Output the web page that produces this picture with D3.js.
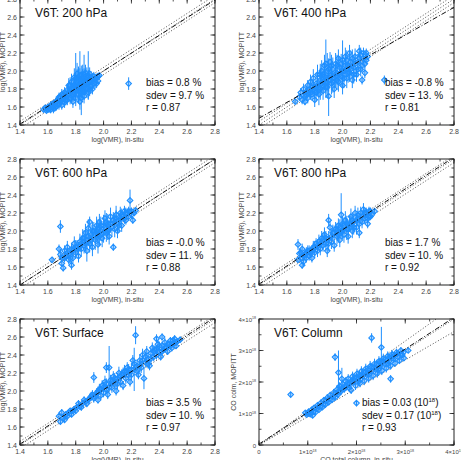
<!DOCTYPE html>
<meta charset="utf-8">
<script src="https://cdnjs.cloudflare.com/ajax/libs/d3/7.8.5/d3.min.js"></script>
<style>
body { margin: 0; background: #fff; }
text { font-family: "Liberation Sans", Arial, sans-serif; }
</style>
<body>
<script>

// panel layout
var colX = [20, 259], rowY = [-1, 159, 319];
var pw = 195, ph = 126;
var blue = "#1e8fff";

var titles = ["V6T: 200 hPa", "V6T: 400 hPa", "V6T: 600 hPa", "V6T: 800 hPa", "V6T: Surface", "V6T: Column"];
var stats = [
  ["bias = 0.8 %", "sdev = 9.7 %", "r = 0.87"],
  ["bias = -0.8 %", "sdev = 13. %", "r = 0.81"],
  ["bias = -0.0 %", "sdev = 11. %", "r = 0.88"],
  ["bias = 1.7 %", "sdev = 10. %", "r = 0.92"],
  ["bias = 3.5 %", "sdev = 10. %", "r = 0.97"],
  ["bias = 0.03 (10|18|)", "sdev = 0.17 (10|18|)", "r = 0.93"]
];
// fit line: y value at left and right end of the x domain
var fits = [[1.41, 2.79], [1.475, 2.707], [1.40, 2.80], [1.41, 2.82], [1.41, 2.82], [0.03, 4.05]];
var logTicks = [1.4, 1.6, 1.8, 2.0, 2.2, 2.4, 2.6, 2.8];
var colTicks = [0, 1, 2, 3, 4];

// [in-situ, MOPITT, error]
var p200 = [[1.57,1.57,0.02],[1.58,1.59,0.03],[1.59,1.56,0.02],[1.60,1.60,0.03],[1.61,1.58,0.04],[1.62,1.62,0.03],[1.62,1.57,0.04],
 [1.63,1.60,0.04],[1.64,1.64,0.03],[1.64,1.58,0.05],[1.65,1.62,0.04],[1.66,1.66,0.05],[1.66,1.60,0.04],[1.67,1.68,0.05],
 [1.68,1.63,0.06],[1.68,1.71,0.05],[1.69,1.66,0.05],[1.70,1.74,0.06],[1.70,1.62,0.05],[1.71,1.69,0.07],[1.72,1.76,0.06],
 [1.72,1.65,0.06],[1.73,1.72,0.08],[1.74,1.79,0.07],[1.74,1.68,0.06],[1.75,1.75,0.09],[1.75,1.84,0.08],[1.76,1.70,0.07],
 [1.77,1.80,0.10],[1.77,1.88,0.09],[1.78,1.74,0.08],[1.78,1.66,0.07],[1.79,1.84,0.12],[1.79,1.93,0.10],[1.80,1.78,0.10],
 [1.80,1.92,0.28],[1.80,1.70,0.09],[1.81,1.88,0.14],[1.81,1.97,0.12],[1.82,1.82,0.11],[1.82,1.74,0.10],[1.83,1.90,0.13],
 [1.83,1.95,0.27],[1.83,1.66,0.09],[1.84,1.86,0.12],[1.84,1.70,0.19],[1.84,1.96,0.10],[1.85,1.78,0.11],[1.85,1.92,0.15],
 [1.86,1.83,0.10],[1.86,1.96,0.22],[1.86,1.72,0.08],[1.87,1.90,0.12],[1.87,1.98,0.09],[1.88,1.80,0.10],[1.88,1.86,0.11],
 [1.89,1.93,0.08],[1.89,1.95,0.27],[1.89,1.76,0.07],[1.90,1.88,0.09],[1.90,1.97,0.07],[1.91,1.83,0.08],[1.92,1.91,0.06],
 [1.92,1.80,0.06],[1.93,1.94,0.05],[1.94,1.87,0.06],[1.95,1.92,0.05],[1.96,1.89,0.04],[1.97,1.95,0.03],[2.18,1.86,0.07],
 [1.60,1.57,0.03],[1.63,1.63,0.04],[1.65,1.59,0.04],[1.67,1.64,0.05],[1.69,1.70,0.06],[1.71,1.73,0.06],[1.73,1.68,0.06],
 [1.74,1.74,0.08],[1.76,1.78,0.08],[1.76,1.84,0.09],[1.78,1.82,0.10],[1.79,1.76,0.09],[1.80,1.86,0.12],[1.81,1.80,0.10],
 [1.82,1.92,0.13],[1.83,1.78,0.11],[1.84,1.82,0.12],[1.85,1.88,0.14],[1.86,1.90,0.13],[1.87,1.84,0.11],[1.88,1.94,0.10],
 [1.89,1.86,0.10],[1.90,1.80,0.08],[1.91,1.92,0.08],[1.93,1.86,0.06],[1.94,1.92,0.05],[1.95,1.86,0.05],[1.96,1.94,0.04],
 [1.77,1.72,0.08],[1.80,1.82,0.10],[1.83,1.84,0.12],[1.86,1.78,0.10],[1.70,1.68,0.06],[1.72,1.70,0.06],[1.91,1.88,0.08]];

var p400 = [[1.66,1.66,0.02],[1.69,1.71,0.04],[1.70,1.76,0.05],[1.71,1.68,0.05],[1.72,1.80,0.06],[1.72,1.73,0.05],[1.73,1.66,0.04],
 [1.74,1.77,0.07],[1.75,1.84,0.06],[1.75,1.70,0.06],[1.76,1.79,0.08],[1.77,1.88,0.08],[1.78,1.74,0.07],[1.78,1.82,0.09],
 [1.79,1.92,0.10],[1.80,1.78,0.09],[1.80,1.68,0.08],[1.81,1.86,0.12],[1.82,1.96,0.11],[1.83,1.82,0.10],[1.83,1.74,0.12],
 [1.84,1.90,0.13],[1.85,2.00,0.12],[1.85,1.86,0.11],[1.86,1.78,0.10],[1.87,1.94,0.14],[1.87,2.06,0.12],[1.88,1.88,0.13],
 [1.88,2.08,0.27],[1.89,1.82,0.12],[1.89,2.00,0.20],[1.90,1.72,0.22],[1.91,1.95,0.12],[1.91,2.10,0.11],[1.92,1.86,0.12],
 [1.93,2.02,0.13],[1.94,1.92,0.11],[1.94,1.80,0.10],[1.95,2.08,0.12],[1.96,1.98,0.13],[1.97,1.88,0.11],[1.97,2.14,0.10],
 [1.98,2.04,0.12],[1.99,1.94,0.11],[2.00,2.12,0.22],[2.00,1.84,0.10],[2.01,2.00,0.12],[2.02,2.16,0.10],[2.03,1.92,0.11],
 [2.04,2.06,0.12],[2.05,1.98,0.10],[2.05,2.20,0.09],[2.06,2.10,0.11],[2.07,1.90,0.09],[2.08,2.04,0.10],[2.09,2.16,0.09],
 [2.10,1.96,0.08],[2.11,2.10,0.09],[2.12,2.22,0.07],[2.13,2.02,0.08],[2.14,1.90,0.05],[2.15,2.14,0.06],[2.16,2.08,0.05],
 [2.16,1.98,0.06],[2.17,2.20,0.05],[2.18,2.16,0.04],[2.30,1.90,0.05],
 [1.74,1.73,0.06],[1.77,1.76,0.08],[1.79,1.80,0.09],[1.81,1.76,0.10],[1.82,1.84,0.11],[1.84,1.80,0.12],[1.86,1.88,0.12],
 [1.86,1.96,0.12],[1.88,1.82,0.12],[1.90,1.90,0.13],[1.90,2.02,0.12],[1.92,1.96,0.12],[1.93,1.88,0.12],[1.95,1.94,0.12],
 [1.96,2.06,0.12],[1.98,1.96,0.12],[1.99,2.08,0.11],[2.01,1.92,0.11],[2.02,2.06,0.12],[2.03,2.12,0.11],[2.04,1.98,0.11],
 [2.06,2.02,0.11],[2.07,2.14,0.10],[2.08,1.96,0.10],[2.09,2.08,0.10],[2.11,2.02,0.09],[2.12,2.14,0.08],[2.13,2.18,0.08],
 [2.14,2.06,0.07],[2.15,2.20,0.06],[2.17,2.12,0.05],[1.96,1.90,0.11],[1.92,2.06,0.12],[2.00,2.00,0.12],[1.84,1.96,0.12]];

var p600 = [[1.63,1.68,0.03],[1.69,2.05,0.07],[1.68,1.80,0.05],[1.69,1.74,0.06],[1.70,1.70,0.05],[1.70,1.64,0.04],[1.71,1.59,0.04],
 [1.72,1.78,0.06],[1.73,1.72,0.05],[1.74,1.82,0.07],[1.75,1.68,0.05],[1.76,1.75,0.06],[1.77,1.62,0.05],[1.77,1.80,0.07],
 [1.78,1.70,0.06],[1.79,1.86,0.08],[1.80,1.76,0.07],[1.81,1.82,0.08],[1.82,1.72,0.07],[1.83,1.88,0.09],[1.84,1.80,0.08],
 [1.85,1.92,0.10],[1.86,1.84,0.09],[1.87,1.98,0.10],[1.88,1.78,0.12],[1.88,1.90,0.09],[1.89,2.03,0.10],[1.90,2.10,0.06],
 [1.90,1.86,0.10],[1.91,1.96,0.11],[1.92,1.82,0.10],[1.93,2.00,0.10],[1.94,1.90,0.11],[1.95,2.06,0.10],[1.96,1.96,0.12],
 [1.96,1.85,0.10],[1.97,2.10,0.09],[1.98,2.00,0.11],[1.99,1.92,0.10],[2.00,2.06,0.12],[2.01,2.14,0.09],[2.02,1.98,0.10],
 [2.03,2.08,0.11],[2.04,1.94,0.09],[2.05,2.16,0.10],[2.06,2.04,0.10],[2.07,1.82,0.04],[2.08,2.10,0.09],[2.09,2.18,0.10],
 [2.10,2.00,0.08],[2.11,2.12,0.08],[2.12,2.20,0.07],[2.13,2.06,0.07],[2.14,2.16,0.06],[2.15,2.22,0.06],[2.16,2.12,0.05],
 [2.17,2.20,0.05],[2.18,2.16,0.04],[2.19,2.34,0.12],[2.20,2.22,0.04],[2.21,2.12,0.04],[2.22,2.20,0.03],[2.23,2.23,0.03],
 [1.72,1.70,0.05],[1.74,1.76,0.06],[1.76,1.70,0.06],[1.78,1.78,0.07],[1.80,1.82,0.08],[1.82,1.80,0.08],[1.84,1.86,0.09],
 [1.86,1.92,0.09],[1.87,1.86,0.09],[1.89,1.94,0.10],[1.91,1.90,0.10],[1.92,2.00,0.10],[1.94,1.96,0.10],[1.95,2.00,0.11],
 [1.97,1.94,0.11],[1.98,2.06,0.10],[2.00,1.98,0.11],[2.01,2.04,0.10],[2.02,2.10,0.10],[2.04,2.02,0.10],[2.05,2.08,0.10],
 [2.07,2.12,0.09],[2.08,2.02,0.09],[2.09,2.14,0.09],[2.11,2.06,0.08],[2.12,2.14,0.08],[2.13,2.18,0.07],[2.15,2.14,0.06],
 [2.16,2.20,0.06],[2.18,2.22,0.05],[2.20,2.18,0.04],[1.96,2.02,0.11],[2.03,2.00,0.10]];

var p800 = [[1.68,1.68,0.03],[1.68,1.85,0.06],[1.69,1.75,0.05],[1.70,1.70,0.05],[1.71,1.62,0.04],[1.71,1.80,0.06],[1.72,1.66,0.05],
 [1.73,1.74,0.06],[1.74,1.70,0.05],[1.75,1.78,0.06],[1.76,1.72,0.05],[1.77,1.76,0.06],[1.78,1.70,0.05],[1.79,1.82,0.07],
 [1.80,1.76,0.06],[1.81,1.86,0.06],[1.82,1.78,0.07],[1.83,1.88,0.08],[1.84,1.80,0.07],[1.85,1.92,0.08],[1.86,1.84,0.07],
 [1.87,1.96,0.08],[1.88,1.86,0.08],[1.89,1.78,0.07],[1.90,2.12,0.07],[1.90,1.92,0.08],[1.91,2.04,0.07],[1.92,1.88,0.08],
 [1.93,1.98,0.09],[1.94,1.84,0.07],[1.95,2.02,0.08],[1.96,1.94,0.09],[1.97,2.06,0.08],[1.98,1.90,0.08],[1.99,2.18,0.24],
 [1.99,2.00,0.09],[2.00,2.08,0.08],[2.01,1.96,0.09],[2.02,2.12,0.10],[2.03,2.02,0.12],[2.04,1.94,0.08],[2.05,2.08,0.09],
 [2.06,2.16,0.09],[2.07,2.00,0.08],[2.08,2.10,0.09],[2.09,2.20,0.08],[2.10,2.04,0.08],[2.11,2.14,0.08],[2.12,1.98,0.06],
 [2.13,2.20,0.07],[2.14,2.10,0.07],[2.15,2.24,0.07],[2.16,2.14,0.06],[2.17,2.20,0.06],[2.18,2.08,0.05],[2.19,2.16,0.05],
 [2.20,2.22,0.04],[2.21,2.18,0.04],[2.23,2.22,0.03],
 [1.70,1.76,0.05],[1.72,1.72,0.05],[1.74,1.76,0.06],[1.76,1.78,0.06],[1.78,1.78,0.06],[1.80,1.82,0.07],[1.82,1.84,0.07],
 [1.84,1.86,0.07],[1.86,1.90,0.08],[1.88,1.92,0.08],[1.90,1.86,0.08],[1.92,1.94,0.08],[1.94,1.98,0.08],[1.96,2.00,0.09],
 [1.97,1.96,0.09],[1.98,2.04,0.09],[2.00,2.00,0.09],[2.01,2.06,0.09],[2.03,2.08,0.09],[2.04,2.02,0.09],[2.06,2.08,0.09],
 [2.07,2.12,0.08],[2.08,2.04,0.08],[2.10,2.12,0.08],[2.11,2.18,0.08],[2.12,2.08,0.07],[2.14,2.16,0.07],[2.16,2.20,0.06],
 [2.18,2.14,0.05],[2.19,2.22,0.05],[2.20,2.16,0.04]];

var pSurf = [[1.68,1.72,0.03],[1.69,1.66,0.03],[1.70,1.76,0.04],[1.71,1.70,0.03],[1.72,1.68,0.03],[1.73,1.74,0.03],[1.75,1.76,0.03],
 [1.77,1.74,0.03],[1.79,1.80,0.03],[1.81,1.82,0.03],[1.83,1.83,0.04],[1.85,1.86,0.04],[1.87,1.88,0.04],[1.89,1.90,0.04],
 [1.91,1.94,0.05],[1.93,2.15,0.06],[1.93,1.92,0.05],[1.95,1.98,0.05],[1.96,1.90,0.04],[1.97,2.02,0.06],[1.98,1.95,0.05],
 [1.99,2.06,0.06],[2.00,1.98,0.05],[2.01,2.10,0.07],[2.02,2.26,0.06],[2.02,2.02,0.06],[2.03,1.96,0.05],[2.04,2.26,0.24],
 [2.05,2.12,0.06],[2.06,2.04,0.06],[2.07,2.16,0.06],[2.08,2.08,0.06],[2.09,2.00,0.05],[2.10,2.14,0.06],[2.11,2.20,0.07],
 [2.12,2.10,0.06],[2.13,2.18,0.06],[2.14,2.06,0.05],[2.15,2.22,0.07],[2.16,2.14,0.06],[2.17,2.26,0.06],[2.18,2.18,0.06],
 [2.19,2.10,0.05],[2.20,2.24,0.07],[2.21,2.34,0.06],[2.22,2.24,0.24],[2.23,2.62,0.10],[2.24,2.28,0.07],[2.25,2.18,0.05],
 [2.26,2.34,0.07],[2.27,2.26,0.06],[2.28,2.40,0.07],[2.29,2.14,0.12],[2.30,2.32,0.06],[2.31,2.44,0.06],[2.32,2.36,0.06],
 [2.33,2.28,0.05],[2.34,2.42,0.06],[2.35,2.48,0.06],[2.36,2.38,0.05],[2.37,2.46,0.05],[2.38,2.58,0.05],[2.38,2.40,0.05],
 [2.39,2.52,0.05],[2.40,2.44,0.05],[2.41,2.38,0.04],[2.42,2.60,0.04],[2.42,2.50,0.05],[2.43,2.46,0.04],[2.44,2.54,0.05],
 [2.45,2.48,0.04],[2.46,2.44,0.04],[2.47,2.52,0.04],[2.48,2.56,0.04],[2.49,2.48,0.04],[2.50,2.52,0.04],[2.51,2.58,0.04],
 [2.52,2.50,0.03],[2.53,2.55,0.03],[2.55,2.57,0.03],
 [1.74,1.72,0.03],[1.76,1.78,0.03],[1.78,1.78,0.03],[1.80,1.78,0.03],[1.82,1.86,0.04],[1.84,1.82,0.04],[1.86,1.90,0.04],
 [1.88,1.86,0.04],[1.90,1.92,0.05],[1.92,1.96,0.05],[1.94,1.94,0.05],[1.96,2.00,0.05],[1.98,2.02,0.06],[2.00,2.04,0.06],
 [2.02,2.08,0.06],[2.04,2.04,0.06],[2.06,2.10,0.06],[2.08,2.14,0.06],[2.10,2.08,0.06],[2.12,2.16,0.06],[2.14,2.20,0.06],
 [2.16,2.20,0.06],[2.18,2.24,0.06],[2.20,2.18,0.06],[2.22,2.30,0.06],[2.24,2.22,0.06],[2.26,2.28,0.06],[2.28,2.34,0.06],
 [2.30,2.38,0.06],[2.32,2.30,0.05],[2.34,2.36,0.05],[2.36,2.44,0.05],[2.38,2.46,0.05],[2.40,2.50,0.05],[2.42,2.44,0.05],
 [2.44,2.48,0.05],[2.46,2.52,0.04],[2.48,2.50,0.04],[2.50,2.56,0.04],[2.52,2.54,0.04]];

// column in units of 1e18
var pCol = [[0.65,1.60,0.08],[0.95,1.02,0.06],[0.98,0.96,0.05],[1.02,1.06,0.07],[1.05,0.98,0.06],[1.08,1.12,0.08],[1.10,0.94,0.06],
 [1.13,1.18,0.08],[1.16,1.04,0.07],[1.20,1.26,0.09],[1.23,1.12,0.08],[1.27,1.34,0.10],[1.30,1.20,0.09],[1.33,1.42,0.10],
 [1.36,1.28,0.09],[1.40,1.50,0.12],[1.43,1.36,0.10],[1.46,1.58,0.11],[1.50,1.44,0.10],[1.53,1.66,0.12],[1.56,2.79,0.12],
 [1.57,1.52,0.11],[1.60,1.76,0.14],[1.62,1.60,0.12],[1.63,2.30,0.70],[1.65,1.86,0.13],[1.68,1.70,0.12],[1.70,2.10,0.35],
 [1.72,1.94,0.14],[1.75,1.78,0.12],[1.78,2.02,0.14],[1.80,1.86,0.13],[1.83,2.10,0.15],[1.86,1.94,0.14],[1.89,1.74,0.12],
 [1.92,2.18,0.15],[1.95,2.02,0.14],[1.98,1.88,0.13],[2.00,1.33,0.10],[2.01,2.26,0.16],[2.04,2.10,0.14],[2.07,1.96,0.13],
 [2.10,2.34,0.16],[2.13,2.18,0.15],[2.16,2.04,0.14],[2.19,2.42,0.16],[2.22,2.26,0.15],[2.25,2.12,0.14],[2.28,2.50,0.17],
 [2.31,3.40,0.15],[2.31,2.34,0.15],[2.34,2.20,0.14],[2.37,2.58,0.16],[2.40,2.42,0.15],[2.43,2.28,0.14],[2.46,2.66,0.16],
 [2.49,2.50,0.15],[2.51,3.10,0.65],[2.52,2.36,0.14],[2.55,2.74,0.16],[2.58,2.58,0.15],[2.61,2.44,0.14],[2.64,2.82,0.15],
 [2.67,2.66,0.14],[2.70,2.10,0.12],[2.70,2.52,0.13],[2.73,2.88,0.14],[2.76,2.74,0.13],[2.79,2.60,0.12],[2.82,2.94,0.12],
 [2.85,2.80,0.12],[2.88,2.68,0.11],[2.91,3.00,0.10],[2.94,2.86,0.10],[2.97,2.76,0.09],[3.06,3.00,0.08],
 [1.00,1.00,0.06],[1.12,1.06,0.07],[1.18,1.16,0.08],[1.25,1.22,0.09],[1.32,1.30,0.09],[1.38,1.40,0.10],[1.45,1.46,0.11],
 [1.52,1.54,0.11],[1.58,1.64,0.12],[1.64,1.70,0.12],[1.70,1.80,0.13],[1.76,1.86,0.13],[1.82,1.96,0.14],[1.88,2.00,0.14],
 [1.94,2.10,0.14],[2.00,2.14,0.15],[2.06,2.20,0.15],[2.12,2.26,0.15],[2.18,2.32,0.15],[2.24,2.38,0.15],[2.30,2.46,0.15],
 [2.36,2.46,0.15],[2.42,2.56,0.15],[2.48,2.62,0.15],[2.54,2.64,0.14],[2.60,2.72,0.14],[2.66,2.76,0.14],[2.72,2.80,0.13],
 [2.78,2.84,0.12],[2.84,2.90,0.12],[2.90,2.88,0.11],[2.96,2.94,0.10],[1.85,1.82,0.13],[2.05,2.02,0.14],[2.25,2.24,0.14],
 [2.45,2.40,0.14],[2.65,2.58,0.13]];

var panels = [p200, p400, p600, p800, pSurf, pCol];

var svg = d3.select("body").append("svg")
    .attr("width", 461)
    .attr("height", 460);

// text with optional superscript parts, "a|sup|b"
function richText(sel, s, fs) {
  var parts = s.split("|");
  parts.forEach(function(p, i) {
    if (p === "") return;
    var t = sel.append("tspan").text(p);
    if (i % 2 == 1) t.attr("font-size", fs * 0.6).attr("dy", -fs * 0.4);
    else if (i > 0) t.attr("dy", fs * 0.4);
  });
}

panels.forEach(function(data, k) {
  var col = k % 2, row = Math.floor(k / 2);
  var isCol = (k == 5);
  var dom = isCol ? [0, 4] : [1.4, 2.8];
  var g = svg.append("g")
    .attr("transform", "translate(" + colX[col] + "," + rowY[row] + ")");

  var x = d3.scaleLinear().domain(dom).range([0, pw]);
  var y = d3.scaleLinear().domain(dom).range([ph, 0]);

  var clip = "clip" + k;
  g.append("clipPath").attr("id", clip).append("rect")
    .attr("width", pw).attr("height", ph);

  var plot = g.append("g").attr("clip-path", "url(#" + clip + ")");

  // reference lines: 1:1 and +/-10 %
  var refs = isCol ? [1, 1.1, 0.9] : [0, 0.04, -0.04];
  refs.forEach(function(r) {
    var f = isCol ? function(v) { return v * r; } : function(v) { return v + r; };
    plot.append("line")
      .attr("x1", x(dom[0])).attr("y1", y(f(dom[0])))
      .attr("x2", x(dom[1])).attr("y2", y(f(dom[1])))
      .attr("stroke", "#222").attr("stroke-width", 0.8)
      .attr("stroke-dasharray", "1,2");
  });

  // error bars
  plot.selectAll(".err").data(data).enter().append("line")
    .attr("x1", function(d) { return x(d[0]); })
    .attr("x2", function(d) { return x(d[0]); })
    .attr("y1", function(d) { return y(d[1] - d[2]); })
    .attr("y2", function(d) { return y(d[1] + d[2]); })
    .attr("stroke", blue).attr("stroke-width", 1);

  // diamonds
  var s = 2.8;
  plot.selectAll(".pt").data(data).enter().append("path")
    .attr("d", function(d) {
      var cx = x(d[0]), cy = y(d[1]);
      return "M" + cx + "," + (cy - s) + "L" + (cx + s) + "," + cy + "L" + cx + "," + (cy + s) + "L" + (cx - s) + "," + cy + "Z";
    })
    .attr("fill", blue).attr("fill-opacity", 0.3)
    .attr("stroke", blue).attr("stroke-width", 1.1);

  // fit line
  plot.append("line")
    .attr("x1", x(dom[0])).attr("y1", y(fits[k][0]))
    .attr("x2", x(dom[1])).attr("y2", y(fits[k][1]))
    .attr("stroke", "#111").attr("stroke-width", 1)
    .attr("stroke-dasharray", "5,2,1,2");

  // axes with inward ticks on all four sides
  var major = isCol ? colTicks : logTicks;
  var minor = d3.range(dom[0], dom[1] + 1e-9, isCol ? 0.5 : 0.1);
  var axisG = g.append("g").attr("stroke", "#222").attr("stroke-width", 0.8);
  [[minor, 2.5], [major, 4.5]].forEach(function(set) {
    set[0].forEach(function(v) {
      axisG.append("line").attr("x1", x(v)).attr("x2", x(v)).attr("y1", ph).attr("y2", ph - set[1]);
      axisG.append("line").attr("x1", x(v)).attr("x2", x(v)).attr("y1", 0).attr("y2", set[1]);
      axisG.append("line").attr("y1", y(v)).attr("y2", y(v)).attr("x1", 0).attr("x2", set[1]);
      axisG.append("line").attr("y1", y(v)).attr("y2", y(v)).attr("x1", pw).attr("x2", pw - set[1]);
    });
  });
  g.append("rect").attr("width", pw).attr("height", ph)
    .attr("fill", "none").attr("stroke", "#222").attr("stroke-width", 1);

  function tickLabel(v) {
    if (!isCol) return d3.format(".1f")(v);
    return v == 0 ? "0" : v + "\u00d710|18|";
  }
  var tfs = isCol ? 6 : 7;
  major.forEach(function(v) {
    var t = g.append("text").attr("x", x(v)).attr("y", ph + 9)
      .attr("text-anchor", "middle").attr("font-size", tfs).attr("fill", "#444");
    richText(t, tickLabel(v), tfs);
    var t2 = g.append("text").attr("x", -3).attr("y", y(v) + 2.5)
      .attr("text-anchor", "end").attr("font-size", tfs).attr("fill", "#444");
    richText(t2, tickLabel(v), tfs);
  });

  // axis titles
  g.append("text").attr("x", pw / 2).attr("y", ph + 17)
    .attr("text-anchor", "middle").attr("font-size", 7).attr("fill", "#444")
    .text(isCol ? "CO total column, in-situ" : "log(VMR), in-situ");
  g.append("text").attr("transform", "translate(" + (isCol ? -23 : -15) + "," + (ph / 2) + ") rotate(-90)")
    .attr("text-anchor", "middle").attr("font-size", 7).attr("fill", "#444")
    .text(isCol ? "CO colm, MOPITT" : "log(VMR), MOPITT");

  // panel title and stats
  g.append("text").attr("x", 15).attr("y", 18)
    .attr("font-size", 12).attr("fill", "#111").text(titles[k]);
  stats[k].forEach(function(s, i) {
    var t = g.append("text").attr("x", isCol ? 103 : 126).attr("y", ph - 39 + i * 12.7)
      .attr("font-size", 10).attr("fill", "#111");
    richText(t, s, 10);
  });
});

</script>
</body>
</html>
